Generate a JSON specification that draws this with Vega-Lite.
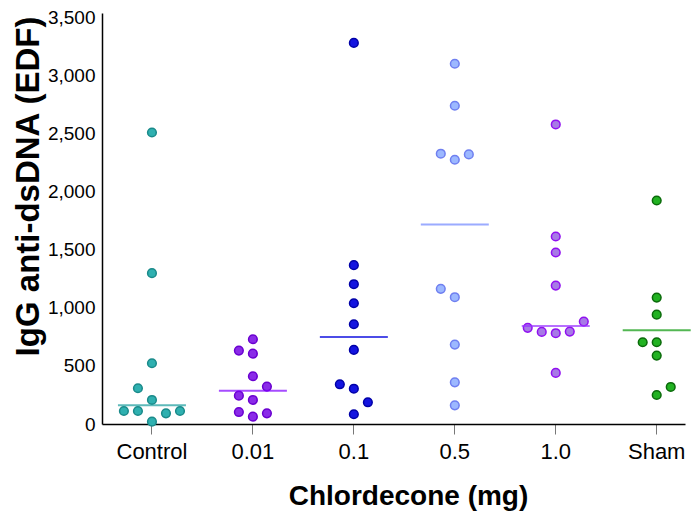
{
  "$schema": "https://vega.github.io/schema/vega-lite/v6.json",
  "autosize": {"type": "none"},
  "padding": {"left": 102, "top": 13, "right": 14, "bottom": 96},
  "width": 583,
  "height": 411,
  "config": {
    "view": {"stroke": null},
    "font": "Liberation Sans, Arial, sans-serif"
  },
  "datasets": {
    "points": [
      {"group": "Control", "value": 2511, "lane": 0},
      {"group": "Control", "value": 1299, "lane": 0},
      {"group": "Control", "value": 523, "lane": 0},
      {"group": "Control", "value": 308, "lane": -1},
      {"group": "Control", "value": 207, "lane": 0},
      {"group": "Control", "value": 112, "lane": -2},
      {"group": "Control", "value": 112, "lane": -1},
      {"group": "Control", "value": 92, "lane": 1},
      {"group": "Control", "value": 112, "lane": 2},
      {"group": "Control", "value": 20, "lane": 0},
      {"group": "0.01", "value": 730, "lane": 0},
      {"group": "0.01", "value": 632, "lane": -1},
      {"group": "0.01", "value": 606, "lane": 0},
      {"group": "0.01", "value": 411, "lane": 0},
      {"group": "0.01", "value": 322, "lane": 1},
      {"group": "0.01", "value": 244, "lane": -1},
      {"group": "0.01", "value": 207, "lane": 0},
      {"group": "0.01", "value": 103, "lane": -1},
      {"group": "0.01", "value": 63, "lane": 0},
      {"group": "0.01", "value": 92, "lane": 1},
      {"group": "0.1", "value": 3282, "lane": 0},
      {"group": "0.1", "value": 1368, "lane": 0},
      {"group": "0.1", "value": 1204, "lane": 0},
      {"group": "0.1", "value": 1040, "lane": 0},
      {"group": "0.1", "value": 859, "lane": 0},
      {"group": "0.1", "value": 638, "lane": 0},
      {"group": "0.1", "value": 342, "lane": -1},
      {"group": "0.1", "value": 304, "lane": 0},
      {"group": "0.1", "value": 187, "lane": 1},
      {"group": "0.1", "value": 84, "lane": 0},
      {"group": "0.5", "value": 3103, "lane": 0},
      {"group": "0.5", "value": 2741, "lane": 0},
      {"group": "0.5", "value": 2328, "lane": -1},
      {"group": "0.5", "value": 2276, "lane": 0},
      {"group": "0.5", "value": 2322, "lane": 1},
      {"group": "0.5", "value": 1164, "lane": -1},
      {"group": "0.5", "value": 1092, "lane": 0},
      {"group": "0.5", "value": 684, "lane": 0},
      {"group": "0.5", "value": 359, "lane": 0},
      {"group": "0.5", "value": 161, "lane": 0},
      {"group": "1.0", "value": 2580, "lane": 0},
      {"group": "1.0", "value": 1615, "lane": 0},
      {"group": "1.0", "value": 1477, "lane": 0},
      {"group": "1.0", "value": 1192, "lane": 0},
      {"group": "1.0", "value": 882, "lane": 2},
      {"group": "1.0", "value": 828, "lane": -2},
      {"group": "1.0", "value": 793, "lane": -1},
      {"group": "1.0", "value": 782, "lane": 0},
      {"group": "1.0", "value": 796, "lane": 1},
      {"group": "1.0", "value": 440, "lane": 0},
      {"group": "Sham", "value": 1925, "lane": 0},
      {"group": "Sham", "value": 1089, "lane": 0},
      {"group": "Sham", "value": 942, "lane": 0},
      {"group": "Sham", "value": 704, "lane": -1},
      {"group": "Sham", "value": 704, "lane": 0},
      {"group": "Sham", "value": 589, "lane": 0},
      {"group": "Sham", "value": 319, "lane": 1},
      {"group": "Sham", "value": 250, "lane": 0}
    ],
    "means": [
      {"group": "Control", "mean": 161},
      {"group": "0.01", "mean": 287},
      {"group": "0.1", "mean": 750},
      {"group": "0.5", "mean": 1718},
      {"group": "1.0", "mean": 845},
      {"group": "Sham", "mean": 808}
    ]
  },
  "encoding": {
    "x": {
      "field": "group",
      "type": "nominal",
      "sort": ["Control", "0.01", "0.1", "0.5", "1.0", "Sham"],
      "scale": {"paddingInner": 0.5, "paddingOuter": 0.1375, "align": 0.89},
      "axis": {
        "title": "Chlordecone (mg)",
        "titleFontSize": 28,
        "titleFontWeight": "bold",
        "titleColor": "black",
        "titlePadding": 20,
        "titleX": 306,
        "labelAngle": 0,
        "labelFontSize": 22,
        "labelColor": "black",
        "labelPadding": 7,
        "tickSize": 10,
        "tickColor": "#777777",
        "domainColor": "black",
        "domainWidth": 1.5
      }
    }
  },
  "layer": [
    {
      "data": {"name": "points"},
      "mark": {"type": "point", "filled": true, "size": 75, "strokeWidth": 1.5, "opacity": 1},
      "encoding": {
        "y": {
          "field": "value",
          "type": "quantitative",
          "scale": {"domain": [0, 3540], "nice": false},
          "axis": {
            "title": "IgG anti-dsDNA (EDF)",
            "titleFontSize": 33,
            "titleFontWeight": "bold",
            "titleColor": "black",
            "titlePadding": 2,
            "titleY": 173,
            "values": [0, 500, 1000, 1500, 2000, 2500, 3000, 3500],
            "format": ",.0f",
            "labelFontSize": 19,
            "labelColor": "black",
            "labelPadding": 7,
            "ticks": false,
            "grid": false,
            "domainColor": "black",
            "domainWidth": 1.5
          }
        },
        "xOffset": {"field": "lane", "type": "quantitative", "scale": {"domain": [-1.8, 1.8]}},
        "fill": {
          "field": "group",
          "type": "nominal",
          "scale": {
            "domain": ["Control", "0.01", "0.1", "0.5", "1.0", "Sham"],
            "range": ["#2fb0b0", "#8a2be8", "#1414e0", "#9cb8ff", "#a77ae6", "#22b222"]
          },
          "legend": null
        },
        "stroke": {
          "field": "group",
          "type": "nominal",
          "scale": {
            "domain": ["Control", "0.01", "0.1", "0.5", "1.0", "Sham"],
            "range": ["#1a8a8a", "#6a00d0", "#0000a8", "#6f7ff0", "#9010f0", "#0a6a0a"]
          },
          "legend": null
        }
      }
    },
    {
      "data": {"name": "means"},
      "mark": {"type": "tick", "size": 68, "thickness": 2},
      "encoding": {
        "y": {"field": "mean", "type": "quantitative"},
        "color": {
          "field": "group",
          "type": "nominal",
          "scale": {
            "domain": ["Control", "0.01", "0.1", "0.5", "1.0", "Sham"],
            "range": ["#1a9c9c", "#8000ff", "#0000dd", "#7088ff", "#9933ff", "#0a990a"]
          },
          "legend": null
        }
      }
    }
  ]
}
